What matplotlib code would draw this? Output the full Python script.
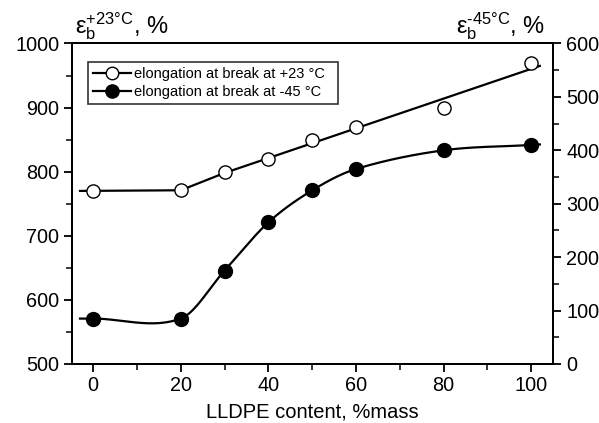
import numpy as np
import matplotlib
matplotlib.use('Agg')
import matplotlib.pyplot as plt
from matplotlib.ticker import MultipleLocator
from matplotlib.lines import Line2D

plt.rcParams['font.family'] = ['Liberation Sans', 'DejaVu Sans']
plt.rcParams['mathtext.fontset'] = 'custom'
plt.rcParams['mathtext.rm'] = 'Liberation Sans'
plt.rcParams['mathtext.it'] = 'Liberation Sans'

# data
lldpe = [0, 20, 30, 40, 50, 60, 80, 100]
elong_p23 = [770, 771, 800, 820, 850, 870, 900, 970]
elong_m45 = [85, 85, 175, 265, 325, 365, 400, 410]

# straight fit line drawn through the +23 °C points
fit_x = [-3, 20, 30, 102]
fit_y = [770, 771, 798, 965]


def hermite_curve(x, y, xs):
    # cubic hermite with central-difference slopes (Origin-like smooth line)
    x = np.asarray(x, float)
    y = np.asarray(y, float)
    n = len(x)
    m = np.zeros(n)
    m[0] = (y[1] - y[0]) / (x[1] - x[0])
    m[-1] = (y[-1] - y[-2]) / (x[-1] - x[-2])
    for i in range(1, n - 1):
        m[i] = (y[i + 1] - y[i - 1]) / (x[i + 1] - x[i - 1])
    idx = np.clip(np.searchsorted(x, xs) - 1, 0, n - 2)
    h = x[idx + 1] - x[idx]
    t = np.clip((xs - x[idx]) / h, 0, 1)
    h00 = 2 * t**3 - 3 * t**2 + 1
    h10 = t**3 - 2 * t**2 + t
    h01 = -2 * t**3 + 3 * t**2
    h11 = t**3 - t**2
    out = h00 * y[idx] + h10 * h * m[idx] + h01 * y[idx + 1] + h11 * h * m[idx + 1]
    out = np.where(xs < x[0], y[0] + m[0] * (xs - x[0]), out)
    out = np.where(xs > x[-1], y[-1] + m[-1] * (xs - x[-1]), out)
    return out


fig = plt.figure(figsize=(5.99, 4.23), dpi=100)
ax = fig.add_axes([0.1197, 0.1395, 0.8035, 0.7577])
ax2 = ax.twinx()

ax.plot(fit_x, fit_y, color='black', lw=1.6, zorder=2)
ax.plot(lldpe, elong_p23, 'o', ms=9.5, mfc='white', mec='black', mew=1.0, zorder=3)

xs = np.linspace(-3, 102, 400)
ax2.plot(xs, hermite_curve(lldpe, elong_m45, xs), color='black', lw=1.6, zorder=2)
ax2.plot(lldpe, elong_m45, 'o', ms=10, color='black', zorder=3)

ax.set_xlim(-4.9, 105)
ax.set_ylim(500, 1000)
ax2.set_ylim(0, 600)

ax.xaxis.set_major_locator(MultipleLocator(20))
ax.xaxis.set_minor_locator(MultipleLocator(10))
ax.yaxis.set_major_locator(MultipleLocator(100))
ax.yaxis.set_minor_locator(MultipleLocator(50))
ax2.yaxis.set_major_locator(MultipleLocator(100))
ax2.yaxis.set_minor_locator(MultipleLocator(50))

for a in (ax, ax2):
    a.tick_params(which='major', direction='out', length=6, width=1.3, labelsize=14.3, pad=3)
    a.tick_params(which='minor', direction='out', length=4, width=1.1)
    for s in a.spines.values():
        s.set_linewidth(1.4)
ax2.tick_params(axis='y', pad=3.5)

ax.set_xlabel('LLDPE content, %mass', fontsize=14.5, labelpad=5)

fig.text(0.125, 0.921, r'$\mathregular{\epsilon_b^{+23°C}}$, %', fontsize=17, ha='left', va='baseline')
fig.text(0.91, 0.921, r'$\mathregular{\epsilon_b^{\text{-45°C}}}$, %', fontsize=17, ha='right', va='baseline')

h1 = Line2D([], [], color='black', lw=1.6, marker='o', ms=9, mfc='white', mec='black')
h2 = Line2D([], [], color='black', lw=1.6, marker='o', ms=9.5, mfc='black', mec='black')
leg = ax.legend([h1, h2], ['elongation at break at +23 °C', 'elongation at break at -45 °C'],
                loc='upper left', bbox_to_anchor=(0.034, 0.0, 0.519, 0.942), mode='expand',
                fontsize=10.5, frameon=True, fancybox=False, edgecolor='black',
                handlelength=2.6, handletextpad=0.2, borderpad=0.35, labelspacing=0.25,
                borderaxespad=0)
leg.get_frame().set_linewidth(1.2)
leg.set_zorder(5)

fig.savefig('out.png', dpi=100)
